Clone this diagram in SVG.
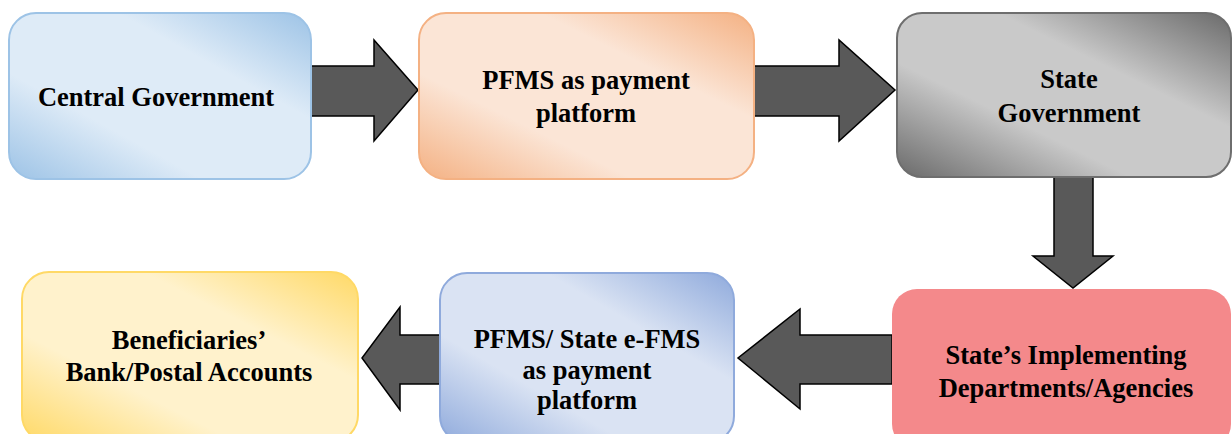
<svg xmlns="http://www.w3.org/2000/svg" width="1232" height="434" viewBox="0 0 1232 434">
<style>
.lbl{font-family:"Liberation Serif","Times New Roman",serif;font-weight:bold;font-size:26.5px;fill:#000;text-anchor:middle}
.arrow{fill:#595959;stroke:#000;stroke-width:1.5;stroke-linejoin:miter}
.box{stroke-width:2}
</style>
<defs>
<linearGradient id="gBlue" x1="0" y1="1" x2="1" y2="0">
<stop offset="0" stop-color="#9dc3e6"/><stop offset="0.32" stop-color="#deebf7"/><stop offset="0.68" stop-color="#deebf7"/><stop offset="1" stop-color="#9dc3e6"/>
</linearGradient>
<linearGradient id="gOrange" x1="0" y1="1" x2="1" y2="0">
<stop offset="0" stop-color="#f4b183"/><stop offset="0.32" stop-color="#fbe5d6"/><stop offset="0.68" stop-color="#fbe5d6"/><stop offset="1" stop-color="#f4b183"/>
</linearGradient>
<linearGradient id="gGray" x1="0" y1="1" x2="1" y2="0">
<stop offset="0" stop-color="#6a6a6a"/><stop offset="0.35" stop-color="#c9c9c9"/><stop offset="0.65" stop-color="#c9c9c9"/><stop offset="1" stop-color="#6a6a6a"/>
</linearGradient>
<linearGradient id="gBlue2" x1="0" y1="1" x2="1" y2="0">
<stop offset="0" stop-color="#8faadc"/><stop offset="0.32" stop-color="#dae3f3"/><stop offset="0.68" stop-color="#dae3f3"/><stop offset="1" stop-color="#8faadc"/>
</linearGradient>
<linearGradient id="gYellow" x1="0" y1="1" x2="1" y2="0">
<stop offset="0" stop-color="#ffd966"/><stop offset="0.32" stop-color="#fff2cc"/><stop offset="0.68" stop-color="#fff2cc"/><stop offset="1" stop-color="#ffd966"/>
</linearGradient>
</defs>
<rect width="1232" height="434" fill="#fff"/>
<g id="connectors">
<polygon class="arrow" points="311,66 374,66 374,40 418,90 374,141 374,116 311,116"/>
<polygon class="arrow" points="754,66 839,66 839,40 895,90 839,141 839,116 754,116"/>
<polygon class="arrow" points="1054,177 1093,177 1093,256 1113,256 1073,288 1033,256 1054,256"/>
<polygon class="arrow" points="892,335 800,335 800,309 738,358 800,409 800,384 892,384"/>
<polygon class="arrow" points="440,335 400,335 400,307 362,358 400,410 400,384 440,384"/>
</g>
<g id="central-government">
<rect class="box" x="9" y="13" width="302" height="166" rx="27" fill="url(#gBlue)" stroke="#9dc3e6"/>
<text class="lbl" x="156" y="106">Central Government</text>
</g>
<g id="pfms-payment">
<rect class="box" x="419" y="13" width="335" height="166" rx="27" fill="url(#gOrange)" stroke="#f4b183"/>
<text class="lbl" x="586" y="89">PFMS as payment</text>
<text class="lbl" x="586" y="122">platform</text>
</g>
<g id="state-government">
<rect class="box" x="897" y="13" width="334" height="164" rx="25" fill="url(#gGray)" stroke="#6e6e6e"/>
<text class="lbl" x="1069" y="88">State</text>
<text class="lbl" x="1069" y="122">Government</text>
</g>
<g id="state-implementing">
<rect x="892" y="289" width="339" height="160" rx="25" fill="#f4898b"/>
<text class="lbl" x="1066" y="364">State’s Implementing</text>
<text class="lbl" x="1066" y="397">Departments/Agencies</text>
</g>
<g id="pfms-state-efms">
<rect class="box" x="440" y="273" width="294" height="170" rx="27" fill="url(#gBlue2)" stroke="#8faadc"/>
<text class="lbl" x="587" y="348">PFMS/ State e-FMS</text>
<text class="lbl" x="587" y="379">as payment</text>
<text class="lbl" x="587" y="409">platform</text>
</g>
<g id="beneficiaries">
<rect class="box" x="22" y="272" width="336" height="170" rx="27" fill="url(#gYellow)" stroke="#ffd966"/>
<text class="lbl" x="189" y="349">Beneficiaries’</text>
<text class="lbl" x="189" y="381">Bank/Postal Accounts</text>
</g>
</svg>
